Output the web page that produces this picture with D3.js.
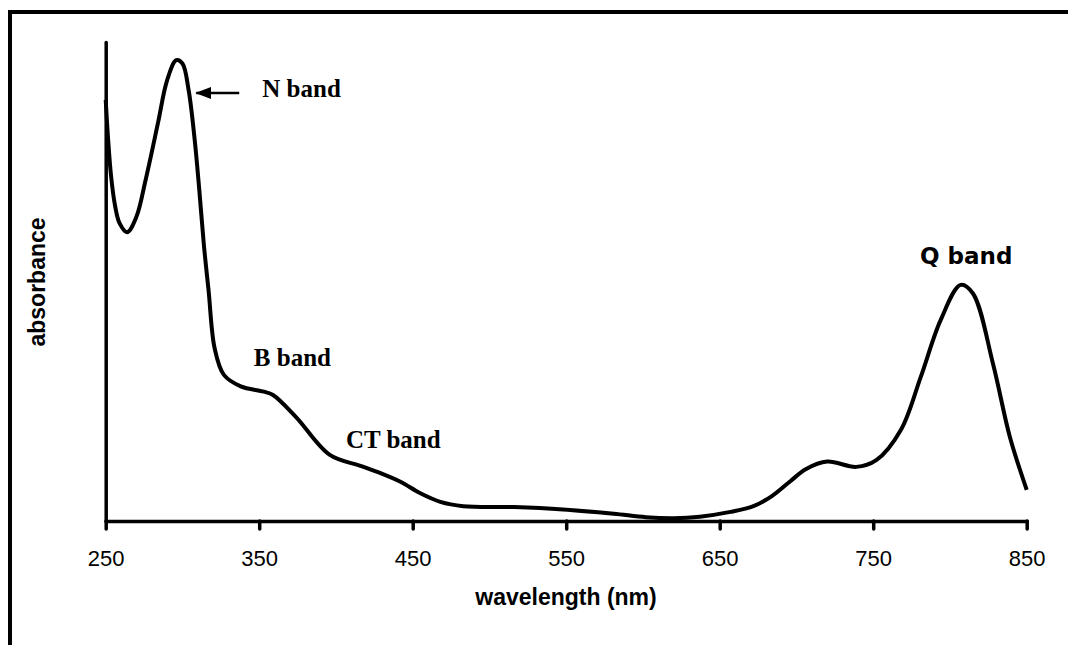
<!DOCTYPE html>
<html>
<head>
<meta charset="UTF-8">
<title>absorbance spectrum</title>
<script src="https://cdn.jsdelivr.net/npm/d3@7"></script>
<style>
    body { margin: 0; background: #fff; }
    .axis path, .axis line { stroke: #000; stroke-width: 3.5; stroke-linecap: round; }
    .axis text { font-family: "Liberation Sans", Arial, sans-serif; font-size: 22px; fill: #000; }
    .title { font-family: "Liberation Sans", Arial, sans-serif; font-size: 23px; font-weight: bold; }
    .band { font-family: "Liberation Serif", "Times New Roman", serif; font-size: 25px; font-weight: bold; }
    .line { fill: none; stroke: #000; stroke-width: 4; stroke-linejoin: round; }
</style>
</head>
<body>
<script>
    // spectrum
    var wavelength = [250, 251.5, 253.5, 256, 259, 264, 270, 276, 284, 290, 296, 300, 304,
                      308, 311, 314, 317, 321, 327, 338, 353, 359, 374, 396, 416, 429, 442,
                      455, 468, 483, 516, 548, 581, 602, 620, 637, 657, 672, 684, 696, 706,
                      720, 739, 752, 768, 781, 794, 807, 815, 828, 839, 850];
    var absorbance = [0.879, 0.800, 0.720, 0.660, 0.622, 0.603, 0.635, 0.712, 0.830, 0.920,
                      0.962, 0.955, 0.900, 0.795, 0.690, 0.575, 0.482, 0.360, 0.305, 0.281,
                      0.270, 0.263, 0.217, 0.138, 0.115, 0.100, 0.082, 0.058, 0.040, 0.031,
                      0.029, 0.024, 0.015, 0.008, 0.006, 0.009, 0.019, 0.031, 0.052, 0.083,
                      0.108, 0.124, 0.113, 0.127, 0.190, 0.301, 0.420, 0.493, 0.475, 0.329,
                      0.176, 0.065];
    var xTicks = [250, 350, 450, 550, 650, 750, 850];

    // annotations: label, wavelength / absorbance of the text start
    var bandLabels = ["N band", "B band", "CT band"];
    var bandX = [352, 346.5, 406.5];
    var bandY = [0.886, 0.324, 0.152];
    var arrowFrom = 337, arrowTo = 309;

    var width = 1068,
        height = 645,
        x = d3.scaleLinear().domain([250, 850]).range([105.7, 1026.7]),
        y = d3.scaleLinear().domain([0, 1]).range([521, 42]);

    var data = wavelength.map(function(w, i){
        return {x: w, y: absorbance[i]};
    });

    var svg = d3.select("body").append("svg")
        .attr("width", width)
        .attr("height", height);

    // outer frame (cut off at right and bottom)
    svg.append("path")
        .attr("d", "M10,645 V12 H1068")
        .attr("fill", "none")
        .attr("stroke", "#000")
        .attr("stroke-width", 4);

    var xAxis = d3.axisBottom(x)
        .tickValues(xTicks)
        .tickSize(8)
        .tickSizeOuter(0)
        .tickPadding(21)
        .tickFormat(d3.format("d"));

    svg.append("g")
        .attr("class", "axis")
        .attr("transform", "translate(0," + y(0) + ")")
        .call(xAxis);

    svg.append("g")
        .attr("class", "axis")
        .attr("transform", "translate(" + x(250) + ",0)")
        .call(d3.axisLeft(y).tickValues([]).tickSizeOuter(0));

    var line = d3.line()
        .x(function(d){ return x(d.x); })
        .y(function(d){ return y(d.y); })
        .curve(d3.curveCatmullRom.alpha(0.5));

    svg.append("path")
        .datum(data)
        .attr("class", "line")
        .attr("d", line);

    // axis titles
    svg.append("text")
        .attr("class", "title")
        .attr("x", 566)
        .attr("y", 605)
        .attr("text-anchor", "middle")
        .text("wavelength (nm)");

    svg.append("text")
        .attr("class", "title")
        .attr("transform", "translate(45,282) rotate(-90)")
        .attr("text-anchor", "middle")
        .text("absorbance");

    // band labels
    svg.selectAll("text.band")
        .data(bandLabels)
        .enter().append("text")
        .attr("class", "band")
        .attr("x", function(d, i){ return x(bandX[i]); })
        .attr("y", function(d, i){ return y(bandY[i]); })
        .text(function(d){ return d; });

    svg.append("text")
        .attr("x", 920)
        .attr("y", 264)
        .style("font-family", "'DejaVu Sans', Verdana, sans-serif")
        .style("font-size", "23px")
        .style("font-weight", "bold")
        .text("Q band");

    // arrow pointing at the N band peak
    svg.append("defs").append("marker")
        .attr("id", "head")
        .attr("viewBox", "0 0 16 12")
        .attr("markerUnits", "userSpaceOnUse")
        .attr("refX", 15).attr("refY", 6)
        .attr("markerWidth", 16).attr("markerHeight", 12)
        .attr("orient", "auto")
        .append("path")
        .attr("d", "M0,0 L16,6 L0,12 z");

    svg.append("line")
        .attr("x1", x(arrowFrom)).attr("y1", 93)
        .attr("x2", x(arrowTo)).attr("y2", 93)
        .attr("stroke", "#000")
        .attr("stroke-width", 2.5)
        .attr("marker-end", "url(#head)");
</script>
</body>
</html>
